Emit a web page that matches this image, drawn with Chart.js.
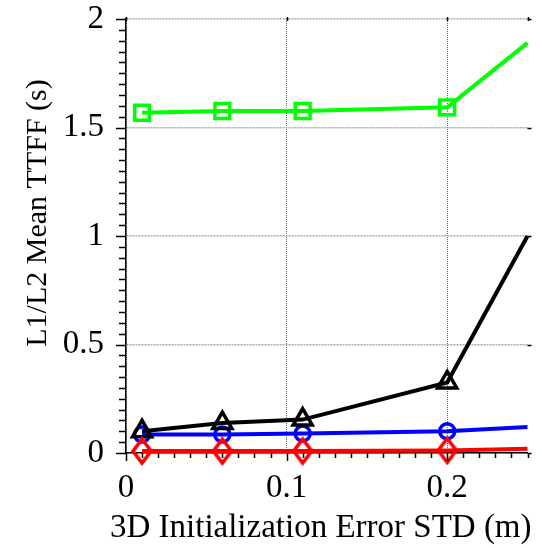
<!DOCTYPE html>
<html><head><meta charset="utf-8">
<script src="https://cdn.jsdelivr.net/npm/chart.js@4/dist/chart.umd.min.js"></script>
<style>html,body{margin:0;padding:0;background:#fff}#c{display:block}</style>
</head><body>
<canvas id="c" width="542" height="548"></canvas>
<script>
const xValues = [0.01, 0.06, 0.11, 0.2, 0.25];
const greenSquares = [1.568, 1.576, 1.576, 1.593, 1.89];
const blackTriangles = [0.10, 0.138, 0.154, 0.325, 1.0];
const blueCircles = [0.085, 0.085, 0.09, 0.10, 0.12];
const redDiamonds = [0.009, 0.009, 0.009, 0.012, 0.02];
const markerShown = [1, 1, 1, 1, 0];
const xTicks = [0, 0.1, 0.2];
const yTicks = [0, 0.5, 1, 1.5, 2];
const xTitle = '3D Initialization Error STD (m)';
const yTitle = 'L1/L2 Mean TTFF (s)';

const FONT = 'Liberation Serif';

function pts(arr) { return xValues.map((x, i) => ({ x: x, y: arr[i] })); }

// hollow diamond marker (taller than wide)
const diamond = document.createElement('canvas');
diamond.width = 26; diamond.height = 30;
(function () {
  const g = diamond.getContext('2d');
  g.strokeStyle = '#ff0000'; g.lineWidth = 3.6; g.lineJoin = 'miter';
  g.beginPath();
  g.moveTo(13, 3); g.lineTo(22, 15); g.lineTo(13, 27); g.lineTo(4, 15); g.closePath();
  g.stroke();
})();

const base = {
  borderWidth: 4, tension: 0, clip: false,
  pointBackgroundColor: 'rgba(0,0,0,0)', pointBorderWidth: 3.5,
  pointHoverRadius: 0
};

const decor = {
  id: 'decor',
  afterDraw(chart) {
    const ctx = chart.ctx, xs = chart.scales.x, ys = chart.scales.y, a = chart.chartArea;
    ctx.save();
    ctx.strokeStyle = '#000'; ctx.lineWidth = 1.5;
    ctx.beginPath();
    for (let k = 0; k <= 40; k++) {
      const y = Math.round(ys.getPixelForValue(k * 0.05)) + 0.5;
      const len = (k % 10 === 0) ? 10 : 7;
      ctx.moveTo(a.left - len, y); ctx.lineTo(a.left, y);
    }
    for (let k = 0; k <= 25; k++) {
      const x = Math.round(xs.getPixelForValue(k * 0.01)) + 0.5;
      const len = (k % 10 === 0) ? 8 : 5;
      ctx.moveTo(x, a.bottom); ctx.lineTo(x, a.bottom + len);
    }
    yTicks.forEach(v => {
      const y = Math.round(ys.getPixelForValue(v)) + 0.5;
      ctx.moveTo(a.right, y); ctx.lineTo(a.right + 4, y);
    });
    xTicks.concat([0.25]).forEach(v => {
      const x = Math.round(xs.getPixelForValue(v)) + 0.5;
      ctx.moveTo(x, a.top - 2); ctx.lineTo(x, a.top + 2);
    });
    ctx.stroke();
    ctx.fillStyle = '#000';
    // x axis title
    ctx.font = '33px "' + FONT + '"';
    ctx.textAlign = 'center'; ctx.textBaseline = 'alphabetic';
    ctx.fillText(xTitle, (a.left + a.right) / 2 - 6, 537);
    // y axis title
    ctx.font = '30px "' + FONT + '"';
    ctx.textBaseline = 'middle';
    ctx.translate(38, (a.top + a.bottom) / 2 - 23);
    ctx.rotate(-Math.PI / 2);
    ctx.fillText(yTitle, 0, 0);
    ctx.restore();
  }
};

new Chart(document.getElementById('c'), {
  type: 'line',
  data: {
    datasets: [
      Object.assign({}, base, { data: pts(redDiamonds), borderColor: '#ff0000', pointBorderColor: '#ff0000',
        pointStyle: diamond, pointRadius: markerShown.map(m => m * 9) }),
      Object.assign({}, base, { data: pts(blackTriangles), borderColor: '#000000', pointBorderColor: '#000000',
        pointStyle: 'triangle', pointRadius: markerShown.map(m => m * 11) }),
      Object.assign({}, base, { data: pts(blueCircles), borderColor: '#0000ff', pointBorderColor: '#0000ff',
        pointStyle: 'circle', pointRadius: markerShown.map(m => m * 7.5) }),
      Object.assign({}, base, { data: pts(greenSquares), borderColor: '#00ff00', pointBorderColor: '#00ff00',
        pointStyle: 'rect', pointRadius: markerShown.map(m => m * 10.5) })
    ]
  },
  options: {
    responsive: false, animation: false, devicePixelRatio: 1,
    layout: { padding: { top: 19, right: 14, left: 0, bottom: 0 } },
    plugins: { legend: { display: false }, tooltip: { enabled: false } },
    scales: {
      x: {
        type: 'linear', min: 0, max: 0.25,
        afterBuildTicks: s => { s.ticks = xTicks.map(v => ({ value: v })); },
        afterFit: s => { s.height = 95; s.paddingLeft = 0; s.paddingRight = 0; },
        grid: { color: '#666', lineWidth: 1, drawTicks: false },
        border: { display: true, color: '#000', width: 1.5, dash: [1, 1] },
        ticks: { color: '#000', padding: 19, maxRotation: 0, autoSkip: false,
          font: { family: FONT, size: 33, lineHeight: 1 }, callback: v => String(v) },
        title: { display: false }
      },
      y: {
        type: 'linear', min: 0, max: 2,
        afterBuildTicks: s => { s.ticks = yTicks.map(v => ({ value: v })); },
        afterFit: s => { s.width = 126; s.paddingTop = 0; s.paddingBottom = 0; },
        grid: { color: '#aaa', lineWidth: 1.5, drawTicks: false },
        border: { display: true, color: '#000', width: 1.5, dash: [2, 1] },
        ticks: { color: '#000', padding: 22, font: { family: FONT, size: 33, lineHeight: 1 },
          callback: v => String(v) },
        title: { display: false }
      }
    }
  },
  plugins: [decor]
});
</script>
</body></html>
